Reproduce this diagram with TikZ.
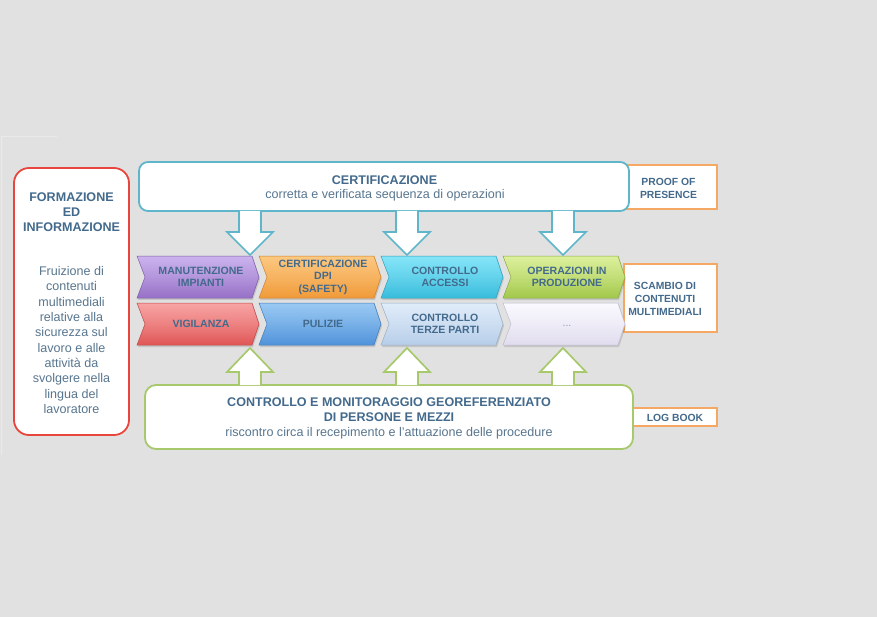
\documentclass[tikz,border=0pt]{standalone}
\usepackage{fontspec}
\setmainfont{Liberation Sans}
\usetikzlibrary{calc}
\definecolor{bg}{HTML}{E1E1E1}
\definecolor{txt}{HTML}{436A8C}
\definecolor{txtl}{HTML}{58768F}
\definecolor{redb}{HTML}{E8453C}
\definecolor{cyanb}{HTML}{5FB6CA}
\definecolor{greenb}{HTML}{A7C96B}
\definecolor{orangeb}{HTML}{F5A863}
\definecolor{puT}{HTML}{CBB3EE}\definecolor{puB}{HTML}{9670C6}
\definecolor{orT}{HTML}{FCC881}\definecolor{orB}{HTML}{F09A38}
\definecolor{cyT}{HTML}{86E5F8}\definecolor{cyB}{HTML}{38BCDC}
\definecolor{grT}{HTML}{DDF09D}\definecolor{grB}{HTML}{A2C84A}
\definecolor{reT}{HTML}{F8A4A4}\definecolor{reB}{HTML}{E05656}
\definecolor{blT}{HTML}{9AC9F3}\definecolor{blB}{HTML}{4F92DA}
\definecolor{lbT}{HTML}{E0ECF9}\definecolor{lbB}{HTML}{B6CDE9}
\definecolor{lvT}{HTML}{FAF9FE}\definecolor{lvB}{HTML}{E0DCEE}
\newcommand\mychev[7]{%
  \fill[black,opacity=.12] ({#1+1},{#2+2}) -- ({#1+116},{#2+2}) -- ({#1+123},{(#2+#3)/2+2}) -- ({#1+116},{#3+2}) -- ({#1+1},{#3+2}) -- ({#1+9},{(#2+#3)/2+2}) -- cycle;
  \shade[top color=#4,bottom color=#5,middle color=#4!55!#5,draw=#5!85!black,line width=.5bp]
    (#1,#2) -- ({#1+115},#2) -- ({#1+122},{(#2+#3)/2}) -- ({#1+115},#3) -- (#1,#3) -- ({#1+8},{(#2+#3)/2}) -- cycle;
  \node[chevtext] (#6) at ({#1+64},{(#2+#3)/2}) {#7};}
\begin{document}
\begin{tikzpicture}[x=1bp,y=-1bp,
  chevtext/.style={align=center,text=txt,font=\fontsize{10.6}{12.6}\selectfont\bfseries,inner sep=0pt},
  labbox/.style={draw=orangeb,line width=1.8bp,fill=white,inner sep=0pt},
  labtext/.style={align=center,text=txt,font=\fontsize{10.4}{13}\selectfont\bfseries,inner sep=0pt},
  bigbox/.style={fill=white,line width=1.8bp,inner sep=0pt},
  titletext/.style={align=center,text=txt,font=\fontsize{12.6}{15.2}\selectfont\bfseries,inner sep=0pt},
  bodytext/.style={align=center,text=txtl,font=\fontsize{12.6}{15.4}\selectfont,inner sep=0pt},
  downarrow/.style={draw=cyanb,fill=white,line width=1.7bp,line join=miter},
  uparrow/.style={draw=greenb,fill=white,line width=1.7bp,line join=miter}]
\useasboundingbox (0,0) rectangle (877,617);
\fill[bg] (0,0) rectangle (877,617);
\draw[white!30!bg,line width=1bp] (57,137) -- (1.5,137) -- (1.5,455);

% left box
\node[bigbox,draw=redb,rounded corners=15bp,minimum width=115bp,minimum height=267bp] (form) at (71.5,301.5) {};
\node[titletext] (formt) at (71.5,212) {FORMAZIONE\\ED\\INFORMAZIONE};
\node[bodytext] (formb) at (71.5,340) {Fruizione di\\contenuti\\multimediali\\relative alla\\sicurezza sul\\lavoro e alle\\attività da\\svolgere nella\\lingua del\\lavoratore};

% orange label boxes
\node[labbox,minimum width=90bp,minimum height=44bp] (proof) at (672,187) {};
\node[labtext] (prooft) at (668.5,188.5) {PROOF OF\\PRESENCE};
\node[labbox,minimum width=93bp,minimum height=68bp] (scambio) at (670.5,298) {};
\node[labtext] (scambiot) at (665,299) {SCAMBIO DI\\CONTENUTI\\MULTIMEDIALI};
\node[labbox,minimum width=84bp,minimum height=18bp] (log) at (675,417) {};
\node[labtext] (logt) at (675,417.5) {LOG BOOK};

% top and bottom boxes
\node[bigbox,draw=cyanb,rounded corners=9bp,minimum width=490bp,minimum height=49bp] (cert) at (384,186.5) {};
\node[titletext] (certt) at (384.5,180) {CERTIFICAZIONE};
\node[bodytext] (certb) at (385,195.5) {corretta e verificata sequenza di operazioni};
\node[bigbox,draw=greenb,rounded corners=11bp,minimum width=488bp,minimum height=64bp] (ctrl) at (389,417) {};
\node[titletext] (ctrlt) at (389,409.5) {CONTROLLO E MONITORAGGIO GEOREFERENZIATO\\DI PERSONE E MEZZI};
\node[bodytext] (ctrlb) at (389,433.5) {riscontro circa il recepimento e l’attuazione delle procedure};

% chevrons row 1
\mychev{137}{256}{298}{puT}{puB}{c11}{MANUTENZIONE\\IMPIANTI}
\mychev{259}{256}{298}{orT}{orB}{c12}{CERTIFICAZIONE\\DPI\\(SAFETY)}
\mychev{381}{256}{298}{cyT}{cyB}{c13}{CONTROLLO\\ACCESSI}
\mychev{503}{256}{298}{grT}{grB}{c14}{OPERAZIONI IN\\PRODUZIONE}
% chevrons row 2
\mychev{137}{303}{345}{reT}{reB}{c21}{VIGILANZA}
\mychev{259}{303}{345}{blT}{blB}{c22}{PULIZIE}
\mychev{381}{303}{345}{lbT}{lbB}{c23}{CONTROLLO\\TERZE PARTI}
\mychev{503}{303}{345}{lvT}{lvB}{c24}{\raisebox{-4bp}{\color{txt!65}\mdseries...}}

% down arrows from CERTIFICAZIONE
\foreach \cx/\n in {250/1,407/2,563/3}{
  \coordinate (d\n) at (\cx,211);
  \filldraw[downarrow] (d\n) ++(-11,0) -- ++(0,21) -- ++(-12,0) -- ++(23,23) -- ++(23,-23) -- ++(-12,0) -- ++(0,-21);
}
% up arrows from CONTROLLO
\foreach \cx/\n in {250/1,407/2,563/3}{
  \coordinate (u\n) at (\cx,385);
  \filldraw[uparrow] (u\n) ++(-11,0) -- ++(0,-13) -- ++(-12,0) -- ++(23,-24) -- ++(23,24) -- ++(-12,0) -- ++(0,13);
}
\end{tikzpicture}
\end{document}
